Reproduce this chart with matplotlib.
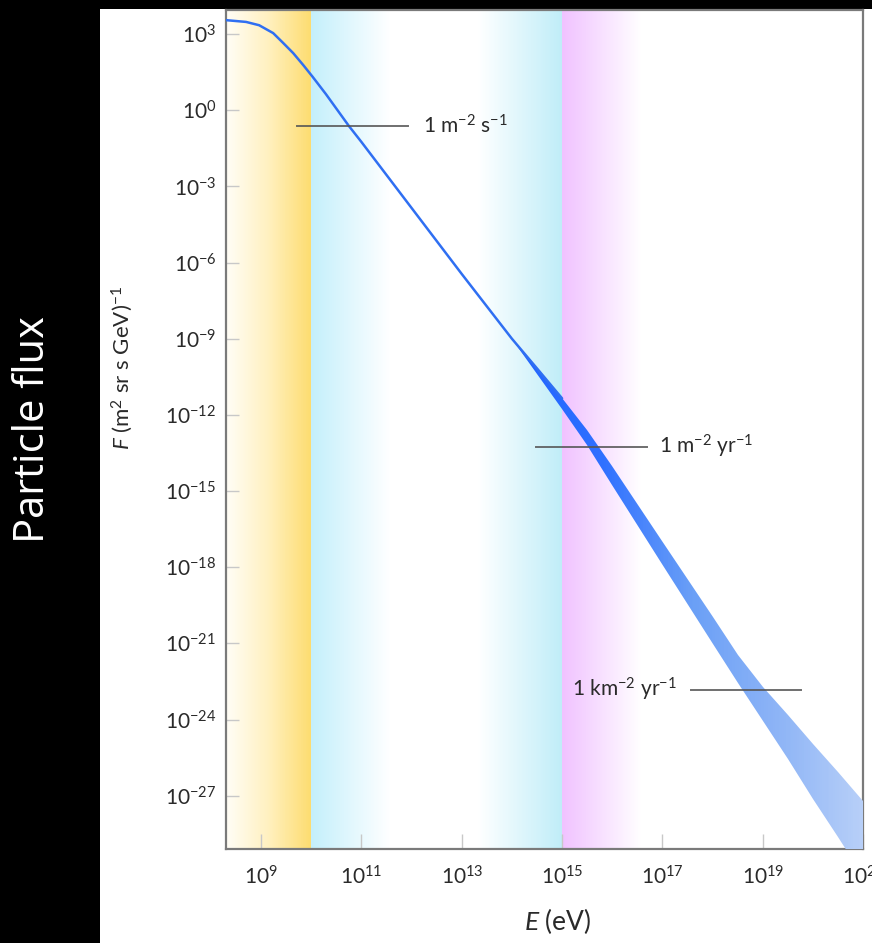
import numpy as np
import matplotlib
matplotlib.use("Agg")
import matplotlib.pyplot as plt
from matplotlib.colors import LinearSegmentedColormap
from matplotlib.patches import Rectangle

# cosmic ray spectrum: log10(E / eV) and log10(F), upper / lower edge of the band
log_e = [8.30, 8.70, 8.96, 9.24, 9.44, 9.64, 9.84, 10.03, 10.29, 10.75, 11.0, 11.5, 12.0, 13.0, 14.0,
         14.5, 15.0, 15.5, 16.0, 17.0, 18.0, 18.5, 19.0, 19.5, 20.0, 20.5, 21.0]
log_f_hi = [3.55, 3.48, 3.35, 3.04, 2.65, 2.25, 1.78, 1.31, 0.64, -0.62, -1.25, -2.55, -3.85, -6.45, -9.00,
            -10.17, -11.35, -12.60, -14.02, -16.98, -19.98, -21.45, -22.71, -23.81, -24.95, -26.06, -27.20]
log_f_lo = [3.55, 3.48, 3.35, 3.04, 2.65, 2.25, 1.78, 1.31, 0.64, -0.62, -1.25, -2.55, -3.85, -6.45, -9.00,
            -10.37, -11.75, -13.20, -14.78, -17.88, -21.02, -22.55, -24.05, -25.54, -27.12, -28.61, -30.15]

# horizontal marker lines (log10 flux, log10 E start / end) and their labels
ref_flux = [-0.62, -13.26, -22.83]
ref_e_start = [9.72, 14.49, 17.57]
ref_e_end = [11.92, 16.69, 19.76]
ref_text = ["1 m$^{-2}$ s$^{-1}$", "1 m$^{-2}$ yr$^{-1}$", "1 km$^{-2}$ yr$^{-1}$"]
ref_text_e = [12.22, 16.93, 17.29]
ref_text_side = ["left", "left", "right"]

# shaded energy ranges (log10 E)
yellow_band = [8.3, 10.0]
cyan_band = [10.0, 15.0]
magenta_band = [15.0, 16.6]

x_ticks = [9, 11, 13, 15, 17, 19, 21]
y_ticks = [3, 0, -3, -6, -9, -12, -15, -18, -21, -24, -27]

plt.rcParams['font.family'] = ['Lato', 'DejaVu Sans']
plt.rcParams['mathtext.fontset'] = 'custom'
plt.rcParams['mathtext.rm'] = 'Lato'
plt.rcParams['mathtext.it'] = 'Lato:italic'
plt.rcParams['mathtext.bf'] = 'Lato:bold'
plt.rcParams['mathtext.default'] = 'regular'

text_col = '#2a2a2a'

fig = plt.figure(figsize=(8.72, 9.43), dpi=100, facecolor='black')
fig.patches.append(Rectangle((100 / 872, 0), 1 - 100 / 872, 1 - 9 / 943,
                             transform=fig.transFigure, facecolor='white', edgecolor='none', zorder=-5))
ax = fig.add_axes([0.2592, 0.0997, 0.7305, 0.8897])
ax.set_xscale('log')
ax.set_yscale('log')
ax.set_xlim(10.0 ** 8.3, 10.0 ** 21)
ax.set_ylim(10.0 ** -29.1, 10.0 ** 3.95)


def shade(e0, e1, colors):
    # gradient strip across the full height of the plot
    xs = np.logspace(e0, e1, 120)
    ys = [1e-30, 1e5]
    c = np.linspace(0, 1, len(xs) - 1).reshape(1, -1)
    cmap = LinearSegmentedColormap.from_list('s', colors)
    ax.pcolormesh(xs, ys, c, cmap=cmap, vmin=0, vmax=1, shading='flat', zorder=0, rasterized=True)


shade(yellow_band[0], yellow_band[1], ['#fffdf6', '#fff0bf', '#fddc70'])
shade(cyan_band[0], 11.6, ['#c4effb', '#ffffff'])
shade(13.3, cyan_band[1], ['#ffffff', '#c0edf8'])
shade(magenta_band[0], magenta_band[1], ['#f0c2ff', '#ffffff'])

E = 10.0 ** np.array(log_e)
f_hi = 10.0 ** np.array(log_f_hi)
f_lo = 10.0 ** np.array(log_f_lo)

band = ax.fill_between(E, f_lo, f_hi, facecolor='none', edgecolor='none', zorder=3)
xs = np.logspace(14, 21.2, 200)
c = np.linspace(0, 1, len(xs) - 1).reshape(1, -1)
blue = LinearSegmentedColormap.from_list('b', ['#1f63ff', '#2f70ff', '#6a9ff6', '#8fb5f6', '#bcd2f8'])
mesh = ax.pcolormesh(xs, [1e-32, 1e5], c, cmap=blue, vmin=0, vmax=1, shading='flat', zorder=3)
mesh.set_clip_path(band.get_paths()[0], band.get_transform())
ax.plot(E[:17], f_hi[:17], color='#2f6ff2', lw=1.8, zorder=4, solid_capstyle='round')

for f, e0, e1, t, te, side in zip(ref_flux, ref_e_start, ref_e_end, ref_text, ref_text_e, ref_text_side):
    ax.plot([10.0 ** e0, 10.0 ** e1], [10.0 ** f, 10.0 ** f], color='#555555', lw=1.4, alpha=0.85, zorder=5)
    ax.text(10.0 ** te, 10.0 ** f, t, ha=side, va='center', fontsize=15, color=text_col, zorder=6)

ax.set_xticks([10.0 ** k for k in x_ticks])
ax.set_yticks([10.0 ** k for k in y_ticks])
ax.minorticks_off()
ax.tick_params(axis='x', direction='in', length=11, width=1, color='#c8c8c8', pad=12,
               labelsize=15, labelcolor=text_col)
ax.tick_params(axis='y', direction='in', length=9, width=1, color='#c8c8c8', pad=7,
               labelsize=15, labelcolor=text_col)
for s in ax.spines.values():
    s.set_color('#7a7a7a')
    s.set_linewidth(1.6)
ax.set_facecolor('white')

ax.set_xlabel(r'$\mathit{E}$ (eV)', fontsize=19, color=text_col)
ax.xaxis.set_label_coords(0.52, -0.068)
ax.set_ylabel(r'$\mathit{F}$ (m$^2$ sr s GeV)$^{-1}$', fontsize=16, color=text_col)
ax.yaxis.set_label_coords(-0.143, 0.573)

fig.text(33 / 872, 0.545, 'Particle flux', rotation=90, color='white', fontsize=30,
         ha='center', va='center', family=['Open Sans', 'DejaVu Sans'])

fig.savefig('out.png', dpi=100, facecolor='black')
